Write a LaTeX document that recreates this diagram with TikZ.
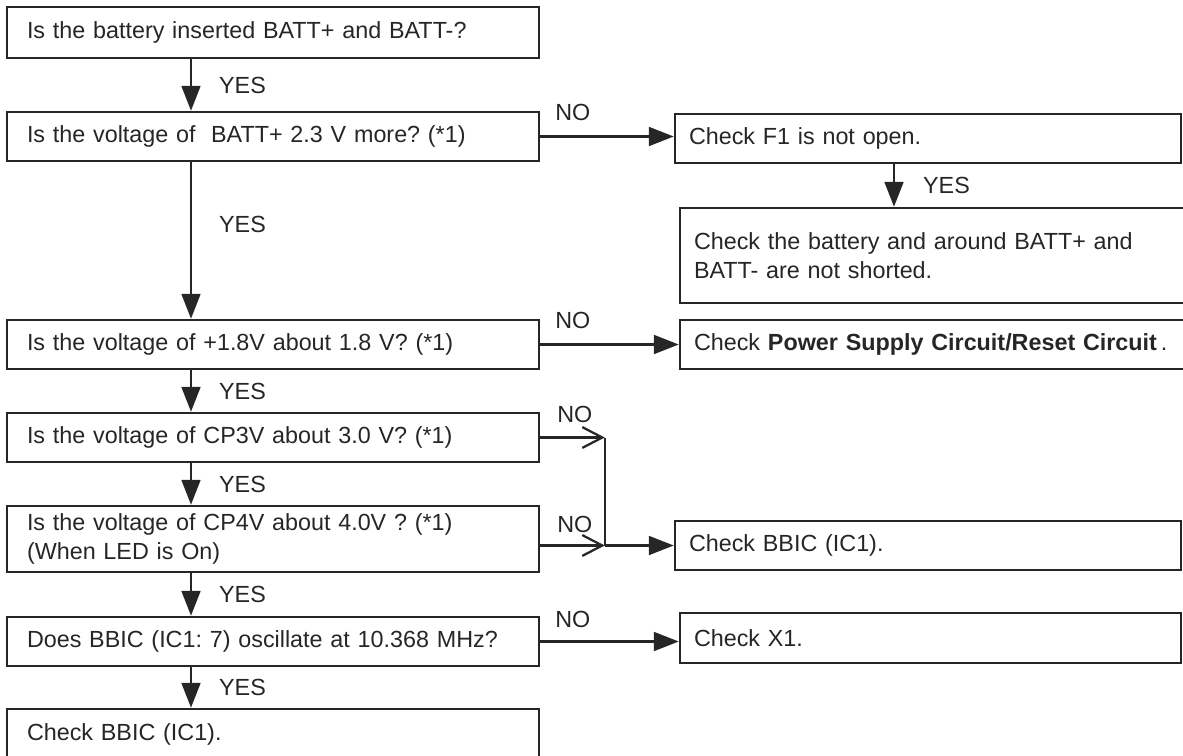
\documentclass[tikz,border=0pt]{standalone}
\usepackage{fontspec}
\setmainfont{Liberation Sans}
\usetikzlibrary{arrows.meta,positioning}
\colorlet{ink}{black!85}
\frenchspacing

\begin{document}
\begin{tikzpicture}[
    qbox/.style={draw=ink, line width=1.8pt, text=ink, align=left, inner xsep=0.5cm, text width=12.3cm, minimum height=1.225cm},
    cbox/.style={draw=ink, line width=1.8pt, text=ink, align=left, inner xsep=0.35cm, text width=11.95cm, minimum height=1.225cm},
    yarr/.style={-{Triangle[length=0.62cm,width=0.47cm]}, line width=1.6pt, draw=ink},
    narr/.style={-{Straight Barb[length=0.5cm,width=0.52cm]}, line width=1.6pt, draw=ink},
    lbl/.style={inner sep=0pt, anchor=west, text=ink},
    font=\fontsize{16.6}{21}\selectfont
]
\useasboundingbox (0,0) rectangle (29.575,-18.9);

% questions, left column
\node[qbox, minimum height=1.275cm] (q1) at (6.825,-0.8125) {Is the battery inserted BATT+ and BATT-?};
\node[qbox] (q2) at (6.825,-3.4125) {Is the voltage of\ \ BATT+ 2.3 V more? (*1)};
\node[qbox] (q3) at (6.825,-8.6125) {Is the voltage of +1.8V about 1.8 V? (*1)};
\node[qbox] (q4) at (6.825,-10.9375) {Is the voltage of CP3V about 3.0 V? (*1)};
\node[qbox, minimum height=1.65cm] (q5) at (6.825,-13.475) {Is the voltage of CP4V about 4.0V ? (*1)\\(When LED is On)};
\node[qbox] (q6) at (6.825,-16.0375) {Does BBIC (IC1: 7) oscillate at 10.368 MHz?};
\node[qbox, minimum height=1.275cm] (q7) at (6.825,-18.3625) {Check BBIC (IC1).};

% checks, right column
\node[cbox] (f1) at (23.2,-3.4625) {Check F1 is not open.};
\node[cbox, minimum height=2.375cm] (bat) at (23.325,-6.3875) {Check the battery and around BATT+ and\\BATT- are not shorted.};
\node[cbox] (ps) at (23.325,-8.6125) {Check \textbf{Power Supply Circuit/Reset Circuit}\,.};
\node[cbox] (bbic) at (23.2,-13.6375) {Check BBIC (IC1).};
\node[cbox, text width=11.825cm, minimum height=1.25cm] (x1) at (23.2625,-15.95) {Check X1.};

\coordinate (col) at (4.775,0);
\coordinate (fcol) at (22.35,0);
\path (bbic.west) ++(-1.725,0) coordinate (mrg);

% YES
\draw[yarr] (q1.south -| col) -- node[lbl, xshift=0.675cm]{YES} (q2.north -| col);
\draw[yarr] (q2.south -| col) -- node[lbl, pos=0.4, xshift=0.675cm]{YES} (q3.north -| col);
\draw[yarr] (q3.south -| col) -- node[lbl, xshift=0.675cm]{YES} (q4.north -| col);
\draw[yarr] (q4.south -| col) -- node[lbl, xshift=0.675cm]{YES} (q5.north -| col);
\draw[yarr] (q5.south -| col) -- node[lbl, xshift=0.675cm]{YES} (q6.north -| col);
\draw[yarr] (q6.south -| col) -- node[lbl, xshift=0.675cm]{YES} (q7.north -| col);
\draw[yarr] (f1.south -| fcol) -- node[lbl, xshift=0.7cm]{YES} (bat.north -| fcol);

% NO
\draw[yarr] (q2.east) -- node[lbl, pos=0, xshift=0.35cm, yshift=0.6cm]{NO} (q2.east -| f1.west);
\draw[yarr] (q3.east) -- node[lbl, pos=0, xshift=0.35cm, yshift=0.6cm]{NO} (q3.east -| ps.west);
\draw[narr] (q4.east) -- node[lbl, pos=0, xshift=0.4cm, yshift=0.58cm]{NO} (q4.east -| mrg);
\draw[line width=1.6pt, ink] (q4.east -| mrg) -- (mrg);
\draw[narr] (q5.east |- mrg) -- node[lbl, pos=0, xshift=0.4cm, yshift=0.52cm]{NO} (mrg);
\draw[yarr] (mrg) -- (bbic.west);
\draw[yarr] (q6.east) -- node[lbl, pos=0, xshift=0.35cm, yshift=0.55cm]{NO} (q6.east -| x1.west);
\end{tikzpicture}
\end{document}
